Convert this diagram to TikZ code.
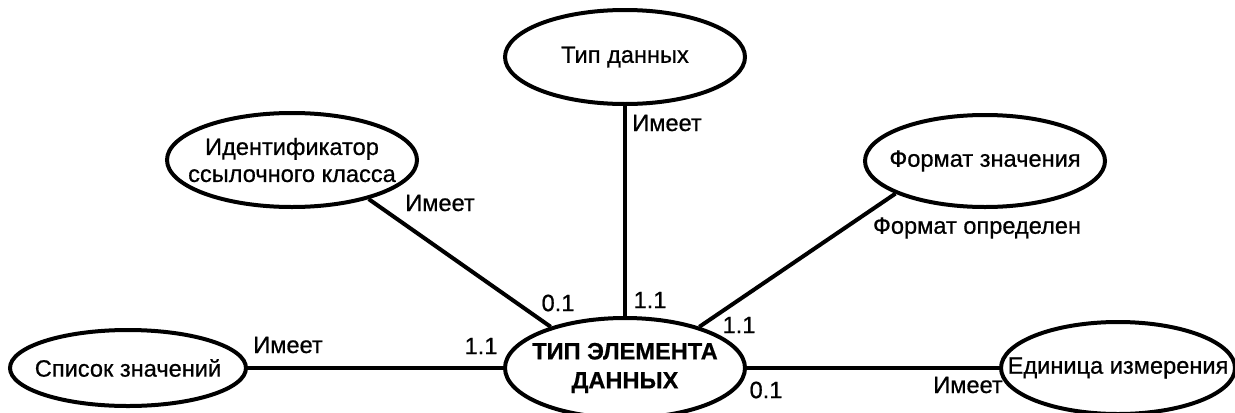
\documentclass[tikz,border=0pt]{standalone}
\usepackage{fontspec}
\setmainfont{Liberation Sans}
\newfontfamily\diagfont[FakeBold=0.7]{Liberation Sans}
\usepackage{tikz}
\usetikzlibrary{shapes.geometric}

\begin{document}
\begin{tikzpicture}[x=0.5pt,y=-0.5pt,
attr/.style={ellipse, draw, line width=2pt, inner xsep=-30pt, inner ysep=-10pt, align=center, font=\diagfont\fontsize{11.8}{13.5}\selectfont},
rel/.style={line width=2pt},
lbl/.style={inner sep=0pt, font=\diagfont\fontsize{11.8}{13.5}\selectfont}]
\useasboundingbox (0,0) rectangle (1235,412);
\node[attr, minimum width=120pt, minimum height=47pt] (dtype) at (625,57) {Тип данных};
\node[attr, minimum width=125pt, minimum height=47pt] (refcls) at (292,160) {Идентификатор\\ссылочного класса};
\node[attr, minimum width=120pt, minimum height=46pt] (fmt) at (985,161) {Формат значения};
\node[attr, minimum width=118pt, minimum height=38pt] (vlist) at (128,368) {Список значений};
\node[attr, minimum width=120pt, minimum height=50pt, font=\diagfont\fontsize{11.8}{14.5}\selectfont\bfseries] (elem) at (625,368) {ТИП ЭЛЕМЕНТА\\ДАННЫХ};
\node[attr, minimum width=117pt, minimum height=46pt] (unit) at (1118,368) {Единица измерения};
\draw[rel] (dtype.south) -- (elem.north);
\draw[rel] (refcls.-27) -- (elem.151);
\draw[rel] (fmt.200) -- (elem.29);
\draw[rel] (vlist.east) -- (elem.west);
\draw[rel] (elem.east) -- (unit.west);
\node[lbl] (l1) at (667,123) {Имеет};
\node[lbl] (l2) at (650,300) {1.1};
\node[lbl] (l3) at (440,203) {Имеет};
\node[lbl] (l4) at (558,303) {0.1};
\node[lbl] (l5) at (977,228) {Формат определен};
\node[lbl] (l6) at (739,325) {1.1};
\node[lbl] (l7) at (288,345) {Имеет};
\node[lbl] (l8) at (481,346) {1.1};
\node[lbl] (l9) at (766,390) {0.1};
\node[lbl] (l10) at (968,385) {Имеет};
\end{tikzpicture}
\end{document}
